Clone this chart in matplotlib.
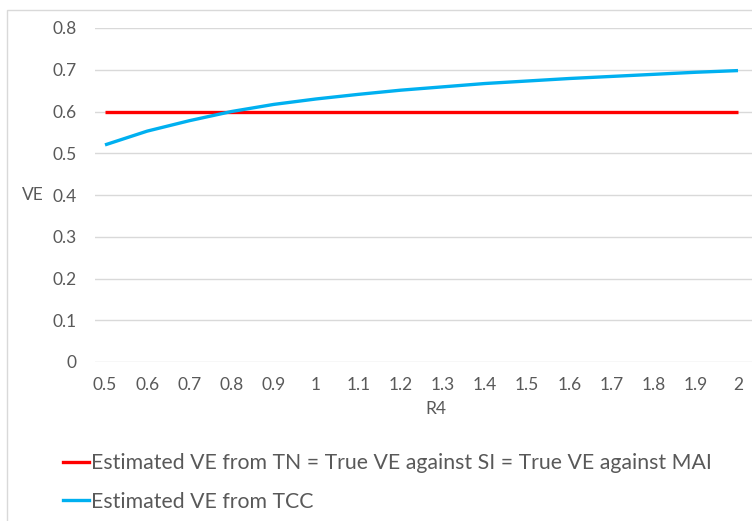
import matplotlib.pyplot as plt
from matplotlib.patches import Rectangle
from matplotlib.lines import Line2D

plt.rcParams['font.family'] = ['Lato', 'DejaVu Sans']

# data
r4 = ["0.5", "0.6", "0.7", "0.8", "0.9", "1", "1.1", "1.2", "1.3", "1.4",
      "1.5", "1.6", "1.7", "1.8", "1.9", "2"]
ve_tn = [0.6] * 16
ve_tcc = [0.520, 0.553, 0.578, 0.600, 0.617, 0.630, 0.641, 0.651, 0.659, 0.667,
          0.673, 0.679, 0.684, 0.689, 0.694, 0.698]
yticks = [0, 0.1, 0.2, 0.3, 0.4, 0.5, 0.6, 0.7, 0.8]

W, H = 752, 521
fig = plt.figure(figsize=(W / 100, H / 100), dpi=100)

# chart area border (cropped on right/bottom)
fig.patches.append(Rectangle((7 / W, -0.1), 1.2, 1 - 10 / H + 0.1,
                             transform=fig.transFigure, fill=False,
                             edgecolor="#d9d9d9", linewidth=1))

ax = fig.add_axes([95 / W, 1 - 362 / H, 1 - 95 / W, (362 - 28) / H])
x = list(range(len(r4)))
ax.plot(x, ve_tn, color="#FF0000", linewidth=2.4, solid_capstyle="butt")
ax.plot(x, ve_tcc, color="#00B0F0", linewidth=2.4, solid_capstyle="butt")

ax.set_ylim(0, 0.8)
ax.set_xlim(-10 / 42.2, 15 + 14 / 42.2)
ax.set_yticks(yticks)
ax.set_yticklabels([f"{v:g}" for v in yticks])
ax.set_xticks(x)
ax.set_xticklabels(r4)
ax.grid(axis="y", color="#d9d9d9", linewidth=1)
ax.set_axisbelow(True)
for s in ax.spines.values():
    s.set_visible(False)
ax.tick_params(length=0, labelsize=12.5, colors="#595959", pad=13)
ax.tick_params(axis="x", pad=11)

fig.text(33 / W, 1 - 195 / H, "VE", fontsize=12.5, color="#595959",
         ha="center", va="center")
fig.text(436 / W, 1 - 409 / H, "R4", fontsize=12.5, color="#595959",
         ha="center", va="center")

handles = [Line2D([], [], color="#FF0000", linewidth=2.4),
           Line2D([], [], color="#00B0F0", linewidth=2.4)]
labels = ["Estimated VE from TN = True VE against SI = True VE against MAI",
          "Estimated VE from TCC"]
fig.legend(handles, labels, loc="upper left", bbox_to_anchor=(63 / W, 1 - 453 / H),
           frameon=False, fontsize=15.3, handlelength=1.22, handletextpad=0.1,
           labelcolor="#595959", labelspacing=0.88, borderaxespad=0, borderpad=0)

fig.savefig("out.png", dpi=100)
